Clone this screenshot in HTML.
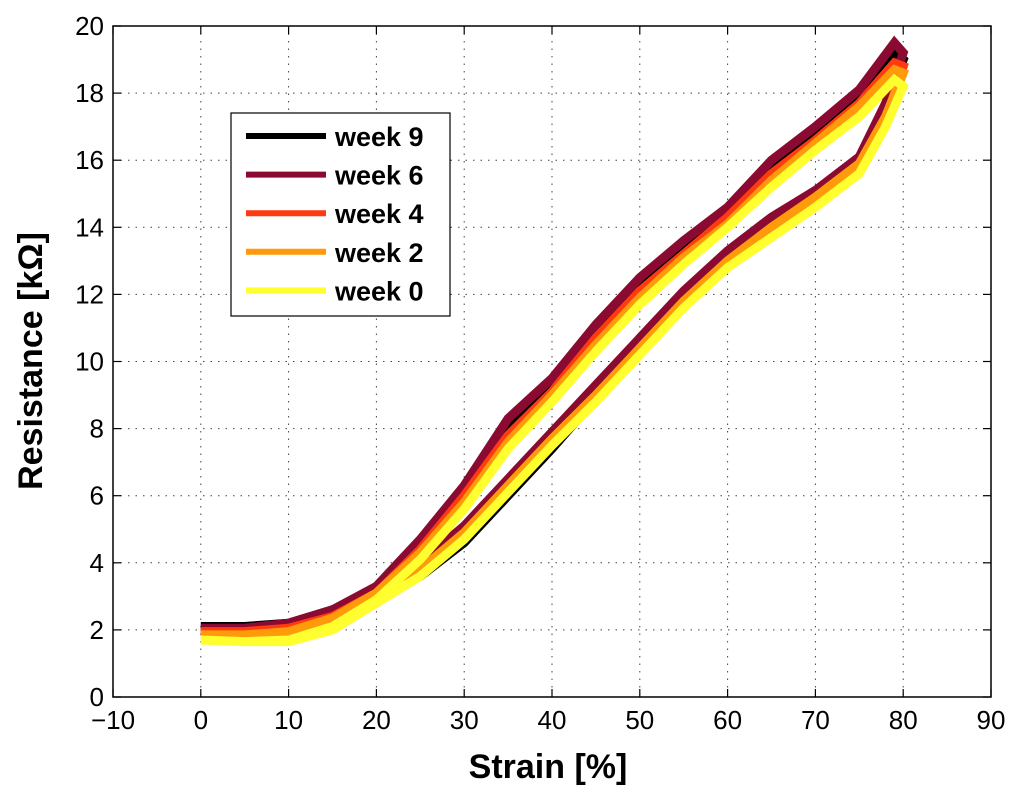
<!DOCTYPE html>
<html><head><meta charset="utf-8"><style>
html,body{margin:0;padding:0;background:#fff;}
svg{display:block;font-family:"Liberation Sans",Arial,sans-serif;}
</style></head><body>
<svg id="chart" width="1024" height="798" viewBox="0 0 1024 798">
<rect x="0" y="0" width="1024" height="798" fill="#fff"/>
<g id="grid"></g>
<g id="series"></g>
<rect x="113" y="26" width="878" height="671" fill="none" stroke="#000" stroke-width="1.5"/>
<g id="ticks"></g>
<text x="548" y="778" text-anchor="middle" font-size="34" font-weight="bold">Strain [%]</text>
<text transform="translate(42,361) rotate(-90)" text-anchor="middle" font-size="34" font-weight="bold">Resistance [kΩ]</text>
<g id="legend"></g>
</svg>
<script>
const xTicks = [-10,0,10,20,30,40,50,60,70,80,90];
const yTicks = [0,2,4,6,8,10,12,14,16,18,20];
const seriesNames = ["week 9","week 6","week 4","week 2","week 0"];
const seriesColors = ["#000000","#8b0a32","#ff3a10","#ff9a0a","#ffff30"];
const strainUp = [0,5,10,15,20,25,30,35,40,45,50,55,60,65,70,75,79,80];
const strainDown = [80,78,75,70,65,60,55,50,45,40,35,30,25,20,15,10,5,0];
const w9Up = [2.1,2.1,2.2,2.6,3.2,4.4,6.0,8.0,9.3,10.9,12.3,13.4,14.5,15.9,16.8,18.0,19.2,19.0];
const w9Down = [19.0,17.6,16.0,14.9,14.0,13.0,11.8,10.3,8.9,7.4,6.0,4.6,3.6,3.0,2.3,2.2,2.1,2.1];
const w6Up = [2.05,2.05,2.2,2.6,3.3,4.7,6.3,8.3,9.5,11.1,12.5,13.6,14.6,16.0,17.0,18.1,19.5,19.2];
const w6Down = [19.2,17.7,16.1,15.1,14.3,13.3,12.1,10.7,9.3,7.9,6.5,5.1,4.0,3.1,2.4,2.1,2.0,2.0];
const w4Up = [1.95,1.95,2.05,2.4,3.1,4.4,6.0,7.8,9.1,10.7,12.1,13.2,14.3,15.6,16.6,17.7,18.9,18.8];
const w4Down = [18.8,17.2,15.7,14.8,13.9,12.9,11.7,10.3,8.9,7.6,6.2,4.8,3.7,2.8,2.2,2.0,1.95,1.95];
const w2Up = [1.85,1.85,1.95,2.35,3.1,4.3,5.8,7.6,9.0,10.5,11.9,13.1,14.1,15.4,16.5,17.6,18.7,18.6];
const w2Down = [18.6,17.3,15.9,14.9,14.0,13.0,11.8,10.4,9.0,7.7,6.3,4.9,3.8,2.9,2.2,1.95,1.85,1.85];
const w0Up = [1.7,1.65,1.7,2.1,2.9,4.1,5.6,7.4,8.8,10.3,11.7,12.9,14.0,15.2,16.3,17.3,18.4,18.2];
const w0Down = [18.2,17.0,15.6,14.6,13.7,12.8,11.6,10.2,8.8,7.5,6.1,4.7,3.6,2.8,2.0,1.65,1.65,1.7];
const upSets = [w9Up,w6Up,w4Up,w2Up,w0Up];
const downSets = [w9Down,w6Down,w4Down,w2Down,w0Down];

const NS = "http://www.w3.org/2000/svg";
const X0=113,X1=991,Y0=697,Y1=26;
function sx(v){return X0+(v+10)/100*(X1-X0);}
function sy(v){return Y0-v/20*(Y0-Y1);}
function mk(tag,attrs,parent){const e=document.createElementNS(NS,tag);for(const k in attrs)e.setAttribute(k,attrs[k]);parent.appendChild(e);return e;}

const grid=document.getElementById('grid'), ticks=document.getElementById('ticks');
xTicks.forEach(t=>{
  const x=sx(t);
  if(t>-10&&t<90){const g=mk('line',{x1:x,x2:x,y1:Y1,y2:Y0,stroke:'#444','stroke-width':1,'stroke-dasharray':'1.5 6'},grid);
  
  }
  const a=mk('line',{x1:x,x2:x,y1:Y0,y2:Y0-8,stroke:'#000','stroke-width':1.2},ticks);
  
  
  const b=mk('line',{x1:x,x2:x,y1:Y1,y2:Y1+8,stroke:'#000','stroke-width':1.2},ticks);
  
  
  const l=mk('text',{x:x,y:Y0+32,'text-anchor':'middle','font-size':26},ticks);
  l.textContent=(t<0?'\u2212'+(-t):t);
  
  
});
yTicks.forEach(t=>{
  const y=sy(t);
  if(t>0&&t<20){const g=mk('line',{x1:X0,x2:X1,y1:y,y2:y,stroke:'#444','stroke-width':1,'stroke-dasharray':'1.5 6'},grid);
  
  }
  const a=mk('line',{x1:X0,x2:X0+8,y1:y,y2:y,stroke:'#000','stroke-width':1.2},ticks);
  
  
  const b=mk('line',{x1:X1,x2:X1-8,y1:y,y2:y,stroke:'#000','stroke-width':1.2},ticks);
  
  
  const l=mk('text',{x:X0-9,y:y+9,'text-anchor':'end','font-size':26},ticks);
  l.textContent=t;
  
  
});

const sg=document.getElementById('series');
seriesNames.forEach((n,i)=>{
  const pts=[];
  strainUp.forEach((s,j)=>pts.push(sx(s).toFixed(1)+','+sy(upSets[i][j]).toFixed(1)));
  strainDown.forEach((s,j)=>pts.push(sx(s).toFixed(1)+','+sy(downSets[i][j]).toFixed(1)));
  const p=mk('polyline',{points:pts.join(' '),fill:'none',stroke:seriesColors[i],'stroke-width':9,'stroke-linejoin':'miter'},sg);
  
  
});

const lg=document.getElementById('legend');
const box=mk('rect',{x:231,y:113,width:219,height:203,fill:'#fff',stroke:'#000','stroke-width':1.2},lg);


seriesNames.forEach((n,i)=>{
  const y=136+i*38.6;
  const ln=mk('line',{x1:246,x2:326,y1:y,y2:y,stroke:seriesColors[i],'stroke-width':6},lg);
  
  
  const t=mk('text',{x:335,y:y+10,'font-size':27,'font-weight':'bold'},lg);
  t.textContent=n;
  
  
});
</script>
</body></html>
